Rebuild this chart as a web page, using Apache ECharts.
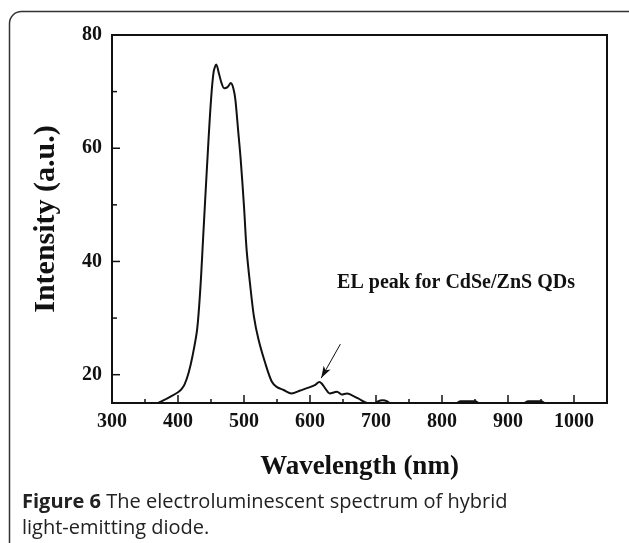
<!DOCTYPE html>
<html>
<head>
<meta charset="utf-8">
<script src="https://cdn.jsdelivr.net/npm/echarts@6/dist/echarts.min.js"></script>
<style>
html,body{margin:0;padding:0;background:#fff;}
#c{width:629px;height:543px;}
</style>
</head>
<body>
<div id="c"></div>
<script>
// Data
var wavelengths = [370, 380, 390, 400, 405, 410, 416, 422, 429, 434, 438, 441, 446, 450, 454, 458, 462, 466, 470, 475, 480, 484, 487, 491, 495, 500, 504, 509, 515, 522, 532, 542, 550, 560, 572, 585, 600, 608, 614, 618, 623, 630, 637, 641, 648, 656, 663, 673, 686, 695, 703, 710, 717, 725, 740, 760, 790, 815, 823, 828, 840, 851, 856, 870, 900, 920, 925, 930, 942, 951, 956, 970, 1000];
var intensity   = [15.0, 15.6, 16.2, 16.9, 17.4, 18.3, 20.3, 23.3, 28.0, 35.5, 44.0, 50.5, 61.0, 68.5, 73.5, 74.8, 73.2, 71.5, 70.6, 70.8, 71.5, 70.5, 68.5, 63.3, 58.0, 49.7, 42.0, 36.2, 30.3, 26.2, 22.1, 18.8, 17.8, 17.3, 16.7, 17.2, 17.8, 18.2, 18.7, 18.4, 17.6, 16.7, 16.9, 17.0, 16.5, 16.7, 16.4, 15.8, 15.0, 14.7, 15.3, 15.5, 15.3, 14.6, 14.0, 13.8, 14.0, 14.5, 15.0, 15.3, 15.3, 15.3, 14.9, 14.2, 14.0, 14.5, 15.0, 15.3, 15.3, 15.3, 14.9, 14.2, 14.0];

var xMin = 300, xMax = 1050, yMin = 15, yMax = 80;
var xLabelValues = [300, 400, 500, 600, 700, 800, 900, 1000];
var xMajorTicks  = [400, 500, 600, 700, 800, 900, 1000];
var xMinorTicks  = [350, 450, 550, 650, 750, 850, 950];
var yLabelValues = [20, 40, 60, 80];
var yMajorTicks  = [20, 40, 60];
var yMinorTicks  = [30, 50, 70];

var xTitle = 'Wavelength (nm)';
var yTitle = 'Intensity (a.u.)';
var annotationText = 'EL peak for CdSe/ZnS QDs';
var arrowFrom = [646, 25.4];
var arrowTo = [617, 19.4];
var captionBold = 'Figure 6';
var captionRest = ' The electroluminescent spectrum of hybrid';
var captionLine2 = 'light-emitting diode.';

var serif = '"Liberation Serif","Times New Roman",serif';
var sans = '"Open Sans","Noto Sans",sans-serif';
var ink = '#111';

var chart = echarts.init(document.getElementById('c'), null, {renderer: 'canvas'});
var seriesData = wavelengths.map(function (w, i) { return [w, intensity[i]]; });

// inward axis ticks drawn through the axes' own scales
function tickSeries(values, isX, len) {
  return {
    type: 'custom',
    silent: true,
    clip: false,
    z: 5,
    data: values.map(function (v) { return isX ? [v, yMin] : [xMin, v]; }),
    renderItem: function (params, api) {
      var p = api.coord([api.value(0), api.value(1)]);
      var shape = isX
        ? {x1: p[0], y1: p[1], x2: p[0], y2: p[1] - len}
        : {x1: p[0], y1: p[1], x2: p[0] + len, y2: p[1]};
      return {type: 'line', shape: shape, style: {stroke: ink, lineWidth: 1.5}};
    }
  };
}

chart.setOption({
  animation: false,
  backgroundColor: '#fff',
  grid: {left: 112, right: 22, top: 35, bottom: 140, show: true, borderColor: ink, borderWidth: 2, backgroundColor: 'transparent'},
  xAxis: {
    type: 'value', min: xMin, max: xMax,
    splitLine: {show: false},
    name: xTitle, nameLocation: 'middle', nameGap: 51,
    nameTextStyle: {fontFamily: serif, fontWeight: 'bold', fontSize: 27, color: ink},
    axisLine: {show: true, lineStyle: {color: ink, width: 2}},
    axisTick: {show: false},
    axisLabel: {show: true, customValues: xLabelValues, margin: 9, fontFamily: serif, fontWeight: 'bold', fontSize: 20, color: ink,
      formatter: function (v) { return String(v); }}
  },
  yAxis: {
    type: 'value', min: yMin, max: yMax,
    splitLine: {show: false},
    name: yTitle, nameLocation: 'middle', nameGap: 51, nameRotate: 90,
    nameTextStyle: {fontFamily: serif, fontWeight: 'bold', fontSize: 30, color: ink},
    axisLine: {show: true, lineStyle: {color: ink, width: 2}},
    axisTick: {show: false},
    axisLabel: {show: true, customValues: yLabelValues, margin: 10, fontFamily: serif, fontWeight: 'bold', fontSize: 20, color: ink,
      formatter: function (v) { return String(v); }}
  },
  series: [{
    type: 'line',
    data: seriesData,
    showSymbol: false,
    smooth: 0.3,
    clip: true,
    silent: true,
    lineStyle: {color: ink, width: 2},
    markLine: {
      silent: true,
      animation: false,
      label: {show: false},
      lineStyle: {color: ink, width: 1, type: 'solid'},
      emphasis: {disabled: true},
      data: [[
        {coord: arrowFrom, symbol: 'none'},
        {coord: arrowTo, symbol: 'arrow', symbolSize: [6, 12]}
      ]]
    }
  },
  tickSeries(xMajorTicks, true, 8),
  tickSeries(xMinorTicks, true, 4),
  tickSeries(yMajorTicks, false, 8),
  tickSeries(yMinorTicks, false, 5)
  ],
  graphic: [
    {type: 'rect', silent: true, z: -1, shape: {x: 9.5, y: 11.5, width: 631, height: 600, r: 12}, style: {fill: 'none', stroke: '#333', lineWidth: 1.5}},
    {type: 'text', silent: true, x: 456, y: 283, style: {text: annotationText, font: 'bold 20px ' + serif, fill: ink, align: 'center', verticalAlign: 'middle'}},
    {type: 'text', silent: true, x: 22, y: 502, style: {
      text: '{b|' + captionBold + '}{r|' + captionRest + '}',
      verticalAlign: 'middle',
      rich: {
        b: {font: 'bold 20px ' + sans, fill: '#222'},
        r: {font: '20px ' + sans, fill: '#222'}
      }
    }},
    {type: 'text', silent: true, x: 22, y: 528, style: {text: captionLine2, font: '20px ' + sans, fill: '#222', verticalAlign: 'middle'}}
  ]
});
</script>
</body>
</html>
